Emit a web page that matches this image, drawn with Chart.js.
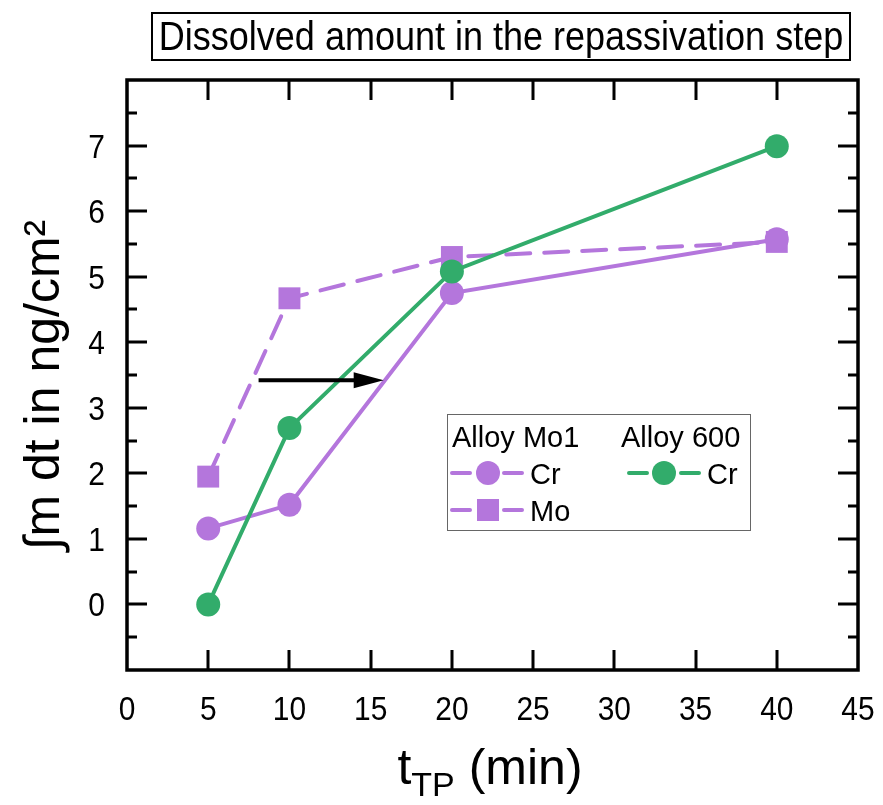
<!DOCTYPE html>
<html>
<head>
<meta charset="utf-8">
<script src="https://cdn.jsdelivr.net/npm/chart.js@4.4.1/dist/chart.umd.min.js"></script>
<style>
  html, body { margin: 0; padding: 0; background: #fff; }
  #wrap { width: 883px; height: 805px; position: relative; }
</style>
</head>
<body>
<div id="wrap"><canvas id="c"></canvas></div>
<script>
/* --- data --- */
var tTP = [5, 10, 20, 40];
var mo1Cr = [1.16, 1.52, 4.75, 5.57];
var mo1Mo = [1.95, 4.67, 5.30, 5.53];
var a600Cr = [0.00, 2.69, 5.08, 6.99];
var xTicks = [0, 5, 10, 15, 20, 25, 30, 35, 40, 45];
var yTicks = [0, 1, 2, 3, 4, 5, 6, 7];
var arrowFrom = [8.1, 3.42];
var arrowTo = [15.8, 3.42];

var PURPLE = 'rgb(180,118,220)';
var GREEN = 'rgb(50,172,107)';
var SANS = '"Liberation Sans", Arial, sans-serif';

function pts(xs, ys) {
  var out = [];
  for (var i = 0; i < xs.length; i++) out.push({ x: xs[i], y: ys[i] });
  return out;
}

// text squeezed horizontally (the figure uses a condensed face)
function squeezed(ctx, txt, x, y, sx, align) {
  ctx.save();
  ctx.translate(x, y);
  ctx.scale(sx, 1);
  ctx.textAlign = align;
  ctx.fillText(txt, 0, 0);
  ctx.restore();
}

/* --- frame, inward ticks, labels, titles, legend, arrow --- */
var decor = {
  id: 'decor',
  afterDraw: function(chart) {
    var ctx = chart.ctx;
    var a = chart.chartArea;
    var xs = chart.scales.x, ys = chart.scales.y;
    ctx.save();

    // inward ticks on all four sides
    ctx.strokeStyle = '#000';
    ctx.lineWidth = 3;
    ctx.beginPath();
    for (var v = 5; v < 45; v += 5) {
      var px = Math.round(xs.getPixelForValue(v));
      ctx.moveTo(px, a.bottom); ctx.lineTo(px, a.bottom - 20);
      ctx.moveTo(px, a.top); ctx.lineTo(px, a.top + 20);
    }
    for (var w = -0.5; w < 8; w += 0.5) {
      var py = Math.round(ys.getPixelForValue(w));
      var len = (w % 1 === 0) ? 20 : 10;
      ctx.moveTo(a.left, py); ctx.lineTo(a.left + len, py);
      ctx.moveTo(a.right, py); ctx.lineTo(a.right - len, py);
    }
    ctx.stroke();

    // frame
    ctx.lineWidth = 3.5;
    ctx.strokeRect(a.left, a.top, a.right - a.left, a.bottom - a.top);

    // tick labels
    ctx.fillStyle = '#000';
    ctx.textBaseline = 'alphabetic';
    ctx.font = '34px ' + SANS;
    for (var i = 0; i < xTicks.length; i++) {
      squeezed(ctx, String(xTicks[i]), xs.getPixelForValue(xTicks[i]), 720, 0.88, 'center');
    }
    for (var j = 0; j < yTicks.length; j++) {
      squeezed(ctx, String(yTicks[j]), a.left - 22, ys.getPixelForValue(yTicks[j]) + 12, 0.88, 'right');
    }

    // arrow
    var x0 = xs.getPixelForValue(arrowFrom[0]), y0 = ys.getPixelForValue(arrowFrom[1]);
    var x1 = xs.getPixelForValue(arrowTo[0]), y1 = ys.getPixelForValue(arrowTo[1]);
    ctx.lineWidth = 4;
    ctx.beginPath();
    ctx.moveTo(x0, y0); ctx.lineTo(x1 - 20, y1);
    ctx.stroke();
    ctx.beginPath();
    ctx.moveTo(x1, y1); ctx.lineTo(x1 - 30, y1 - 8); ctx.lineTo(x1 - 30, y1 + 8);
    ctx.closePath(); ctx.fill();

    // plot title box
    ctx.lineWidth = 2;
    ctx.strokeRect(152, 13, 698, 47);
    ctx.font = '40px ' + SANS;
    squeezed(ctx, 'Dissolved amount in the repassivation step', 501, 50, 0.9, 'center');

    // x title with subscript
    ctx.textAlign = 'left';
    ctx.font = '50px ' + SANS;
    var tW = ctx.measureText('t').width;
    ctx.font = '34px ' + SANS;
    var subW = ctx.measureText('TP').width;
    ctx.font = '50px ' + SANS;
    var restW = ctx.measureText(' (min)').width;
    var sx = 490 - (tW + subW + restW) / 2;
    ctx.fillText('t', sx, 784);
    ctx.font = '34px ' + SANS;
    ctx.fillText('TP', sx + tW, 796);
    ctx.font = '50px ' + SANS;
    ctx.fillText(' (min)', sx + tW + subW, 784);

    // y title
    ctx.save();
    ctx.translate(59, 385);
    ctx.rotate(-Math.PI / 2);
    ctx.textAlign = 'center';
    ctx.font = '50px ' + SANS;
    ctx.fillText('\u222Bm dt in ng/cm\u00B2', 0, 0);
    ctx.restore();

    // legend
    ctx.fillStyle = '#fff';
    ctx.fillRect(447, 414, 304, 117);
    ctx.strokeStyle = '#666';
    ctx.lineWidth = 1;
    ctx.strokeRect(447.5, 414.5, 303, 116);
    ctx.fillStyle = '#000';
    ctx.font = '29px ' + SANS;
    ctx.textAlign = 'left';
    ctx.fillText('Alloy Mo1', 452, 447);
    ctx.fillText('Alloy 600', 621, 447);
    ctx.fillText('Cr', 530, 484);
    ctx.fillText('Mo', 530, 521);
    ctx.fillText('Cr', 707, 484);
    function legLine(xa, xb, y, col) {
      ctx.strokeStyle = col; ctx.lineWidth = 4; ctx.lineCap = 'round';
      ctx.beginPath();
      ctx.moveTo(xa, y); ctx.lineTo(xa + 18, y);
      ctx.moveTo(xb - 18, y); ctx.lineTo(xb, y);
      ctx.stroke();
    }
    legLine(452, 522, 473, PURPLE);
    legLine(452, 522, 510, PURPLE);
    legLine(629, 699, 473, GREEN);
    ctx.fillStyle = PURPLE;
    ctx.beginPath(); ctx.arc(488, 473, 12, 0, Math.PI * 2); ctx.fill();
    ctx.fillRect(477, 499, 22, 22);
    ctx.fillStyle = GREEN;
    ctx.beginPath(); ctx.arc(664, 473, 12, 0, Math.PI * 2); ctx.fill();

    ctx.restore();
  }
};

new Chart(document.getElementById('c'), {
  type: 'scatter',
  data: {
    datasets: [
      {
        label: 'Mo1 Mo', data: pts(tTP, mo1Mo), showLine: true,
        borderColor: PURPLE, backgroundColor: PURPLE, borderWidth: 4,
        borderDash: [24, 14], borderCapStyle: 'round',
        pointStyle: 'rect', pointRadius: 15.5, pointBorderWidth: 0, order: 3
      },
      {
        label: 'Mo1 Cr', data: pts(tTP, mo1Cr), showLine: true,
        borderColor: PURPLE, backgroundColor: PURPLE, borderWidth: 4,
        pointStyle: 'circle', pointRadius: 12, pointBorderWidth: 0, order: 2
      },
      {
        label: '600 Cr', data: pts(tTP, a600Cr), showLine: true,
        borderColor: GREEN, backgroundColor: GREEN, borderWidth: 4,
        pointStyle: 'circle', pointRadius: 12, pointBorderWidth: 0, order: 1
      }
    ]
  },
  options: {
    responsive: true,
    maintainAspectRatio: false,
    animation: false,
    layout: { padding: { left: 0, top: 80, right: 25, bottom: 0 } },
    plugins: { legend: { display: false }, tooltip: { enabled: false } },
    scales: {
      x: {
        type: 'linear', min: 0, max: 45,
        afterFit: function(s) { s.height = 135; },
        afterBuildTicks: function(s) { s.ticks = xTicks.map(function(v) { return { value: v }; }); },
        grid: { display: false, drawTicks: false },
        border: { display: false },
        ticks: { display: false }
      },
      y: {
        type: 'linear', min: -1, max: 8,
        afterFit: function(s) { s.width = 127; },
        afterBuildTicks: function(s) { s.ticks = yTicks.map(function(v) { return { value: v }; }); },
        grid: { display: false, drawTicks: false },
        border: { display: false },
        ticks: { display: false }
      }
    }
  },
  plugins: [decor]
});
</script>
</body>
</html>
